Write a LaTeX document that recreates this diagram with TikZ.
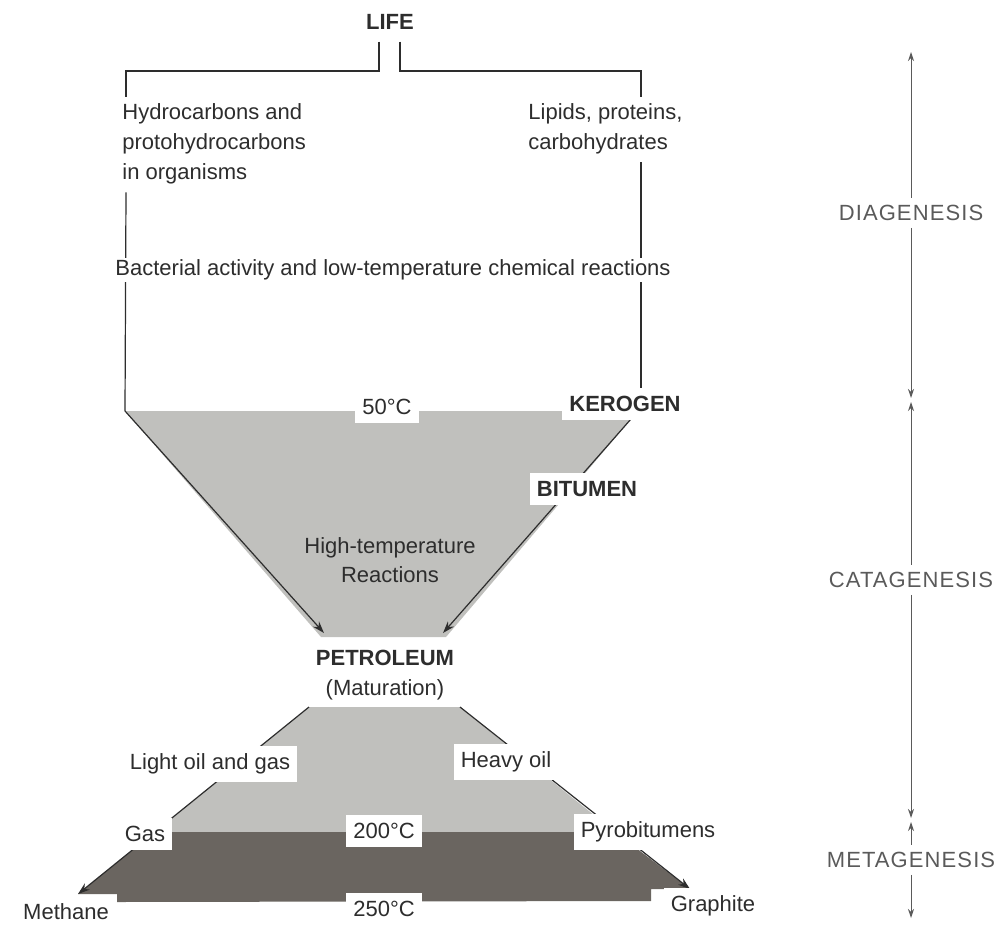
\documentclass[tikz,border=0pt]{standalone}
\usepackage{fontspec}
\setmainfont{Liberation Sans}
\usetikzlibrary{arrows.meta,calc,positioning}
\definecolor{ink}{RGB}{45,45,45}
\definecolor{axisgray}{RGB}{90,90,90}
\definecolor{lightfill}{RGB}{192,192,189}
\definecolor{darkfill}{RGB}{106,101,96}

\begin{document}
\begin{tikzpicture}[x=0.5pt,y=-0.5pt,
    every node/.style={font=\fontsize{11}{15}\selectfont, text=ink},
    bld/.style={font=\fontsize{11}{15}\selectfont\bfseries},
    lbl/.style={fill=white, inner xsep=3.5pt, inner ysep=4pt},
    ln/.style={draw=ink, line width=0.6pt},
    tipe/.style={-{Stealth[length=6pt,width=4pt]}},
    axln/.style={draw=axisgray, line width=0.5pt},
    axe/.style={-{Stealth[length=4.5pt,width=3pt]}},
    axs/.style={{Stealth[length=4.5pt,width=3pt]}-},
    stage/.style={font=\fontsize{11}{15}\selectfont\addfontfeature{LetterSpace=5}, text=axisgray}]
  \useasboundingbox (0,0) rectangle (1005,926);

  % source of organic matter
  \node[bld] (life) at (390,22) {LIFE};
  \node[anchor=north west, align=left, inner sep=0] (hydro) at (122,103)
    {Hydrocarbons and\\protohydrocarbons\\in organisms};
  \node[anchor=north west, align=left, inner sep=0] (lipids) at (528,103)
    {Lipids, proteins,\\carbohydrates};
  \coordinate (lknee) at (126,71);
  \coordinate (rknee) at (641,71);
  \draw[ln] ($(life.south)+(-11,5)$) |- (lknee) -- ([yshift=3pt]lknee |- hydro.north);
  \draw[ln] ($(life.south)+(10,5)$) |- (rknee) -- ([yshift=3pt]rknee |- lipids.north);

  % upper funnel
  \coordinate (ftl) at (125,411);
  \coordinate (ftr) at (638,411);
  \coordinate (fbl) at (324,633);
  \coordinate (fbr) at (443,633);
  \fill[lightfill] (ftl) -- (ftr) -- (446,637) -- (321,637) -- cycle;
  \draw[ln] ([yshift=-4pt]hydro.south -| lknee) -- (ftl);
  \draw[ln] ([yshift=-4pt]lipids.south -| rknee) -- (rknee |- 0,395);
  \draw[ln, tipe] (ftl) -- (fbl);
  \draw[ln, tipe] (ftr) -- (fbr);
  \node[fill=white, inner sep=1pt] (bact) at (393,270)
    {Bacterial activity and low-temperature chemical reactions};
  \node[lbl] (t50) at (387,407) {50°C};
  \node[lbl, bld] (kerogen) at (625,404) {KEROGEN};
  \node[lbl, bld] (bitumen) at (587,489) {BITUMEN};
  \node[align=center, font=\fontsize{11}{14.5}\selectfont] (htr) at (390,560)
    {High-temperature\\Reactions};
  \node[bld] (petro) at (385,658) {PETROLEUM};
  \node (matur) at (385,690) {(Maturation)};

  % lower pyramid
  \coordinate (ptl) at (309,707);
  \coordinate (ptr) at (460,707);
  \coordinate (pml) at (155,832);
  \coordinate (pmr) at (615,832);
  \coordinate (pbl) at (78,894);
  \coordinate (pbr) at (690,889);
  \fill[lightfill] (ptl) -- (ptr) -- (pmr) -- (pml) -- cycle;
  \fill[darkfill] (pml) -- (pmr) -- (pbr) -- (651,889) -- (651,901)
    -- (117,902) -- (117,894) -- (pbl) -- cycle;
  \draw[ln, tipe] (ptl) -- (pbl);
  \draw[ln, tipe] (ptr) -- (pbr);
  \node[lbl] (light) at (210,764) {Light oil and gas};
  \node[lbl] (heavy) at (506,762) {Heavy oil};
  \node[lbl] (gas) at (145,834) {Gas};
  \node[lbl] (t200) at (384,831) {200°C};
  \node[lbl] (pyro) at (648,832) {Pyrobitumens};
  \node[lbl] (methane) at (66,912) {Methane};
  \node[lbl] (t250) at (384,909) {250°C};
  \node[lbl] (graphite) at (713,906) {Graphite};

  % stages
  \node[stage] (diag) at (911,213) {DIAGENESIS};
  \node[stage] (cata) at (911,580) {CATAGENESIS};
  \node[stage] (meta) at (911,860) {METAGENESIS};
  \coordinate (atop) at (911,52);
  \coordinate (xa) at (911,398);
  \coordinate (xb) at (911,402);
  \coordinate (xc) at (911,818);
  \coordinate (xd) at (911,822);
  \coordinate (abot) at (911,918);
  \draw[axln, axs] (atop) -- (diag);
  \draw[axln, axe] (diag) -- (xa);
  \draw[axln, axs] (xb) -- (cata);
  \draw[axln, axe] (cata) -- (xc);
  \draw[axln, axs] (xd) -- (meta);
  \draw[axln, axe] (meta) -- (abot);
\end{tikzpicture}
\end{document}
